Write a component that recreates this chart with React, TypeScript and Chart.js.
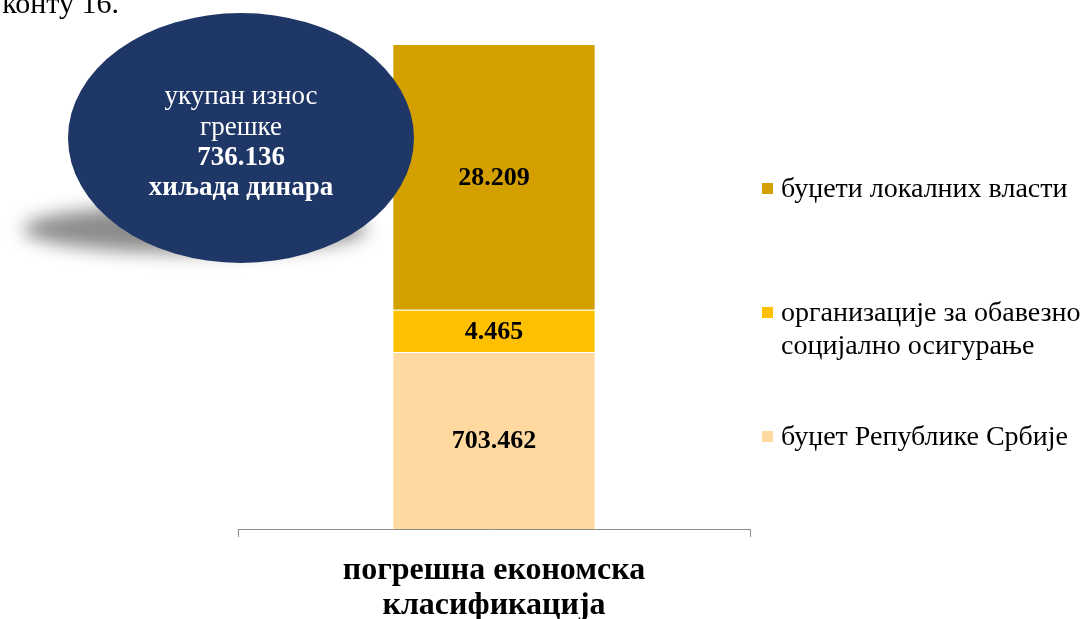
import React, { useEffect, useRef } from "react";
import { Chart, registerables } from "chart.js";

Chart.register(...registerables);

// ---- data ----
const CATEGORIES = ["погрешна економска\nкласификација"];
const SERIES_NAMES = [
  "буџет Републике Србије",
  "организације за обавезно\nсоцијално осигурање",
  "буџети локалних власти",
];
// visual share of the single stacked bar (% of bar height), as drawn in the picture
const BAR_SHARE = [36.5, 8.7, 54.8];
// value labels printed on each segment (thousand dinars)
const VALUE_LABELS = ["703.462", "4.465", "28.209"];
const SERIES_COLORS = ["#FFD99F", "#FFC000", "#D4A000"];
const TOTAL_LINES = ["укупан износ", "грешке", "736.136", "хиљада динара"];
const TOTAL_BOLD = [false, false, true, true];
const HEADER_TEXT = "конту 16.";

const SERIF = '"Liberation Serif", "DejaVu Serif", serif';

const overlayPlugin = {
  id: "overlay",
  afterDatasetsDraw(chart: any) {
    const ctx = chart.ctx as CanvasRenderingContext2D;
    const area = chart.chartArea;
    const xScale = chart.scales.x;

    // header text fragment at the top-left
    ctx.save();
    ctx.fillStyle = "#000";
    ctx.font = `30px ${SERIF}`;
    ctx.textAlign = "right";
    ctx.textBaseline = "alphabetic";
    ctx.fillText(HEADER_TEXT, 119, 13);
    ctx.restore();

    // value labels inside segments
    chart.data.datasets.forEach((ds: any, i: number) => {
      const meta = chart.getDatasetMeta(i);
      meta.data.forEach((el: any) => {
        const cy = (el.y + el.base) / 2;
        ctx.save();
        ctx.fillStyle = "#000";
        ctx.font = `bold 26px ${SERIF}`;
        ctx.textAlign = "center";
        ctx.textBaseline = "middle";
        ctx.fillText(VALUE_LABELS[i], el.x, cy + 1);
        ctx.restore();
      });
    });

    // category label under the axis
    const cx = xScale.getPixelForValue(0);
    const lines = String(chart.data.labels[0]).split("\n");
    ctx.save();
    ctx.fillStyle = "#000";
    ctx.font = `bold 32px ${SERIF}`;
    ctx.textAlign = "center";
    ctx.textBaseline = "middle";
    lines.forEach((ln, k) => ctx.fillText(ln, cx, area.bottom + 42 + k * 35));
    ctx.restore();

    // legend (top dataset first)
    const legendX = 762;
    const legendYs = [438, 314, 190];
    chart.data.datasets.forEach((ds: any, i: number) => {
      const y = legendYs[i];
      ctx.save();
      ctx.fillStyle = ds.backgroundColor;
      ctx.fillRect(legendX, y - 7, 11, 11);
      ctx.fillStyle = "#000";
      ctx.font = `28px ${SERIF}`;
      ctx.textAlign = "left";
      ctx.textBaseline = "middle";
      String(ds.label)
        .split("\n")
        .forEach((ln: string, k: number) => ctx.fillText(ln, legendX + 19, y + k * 33));
      ctx.restore();
    });

    // total bubble with shadow
    ctx.save();
    ctx.filter = "blur(9px)";
    ctx.fillStyle = "rgba(0,0,0,0.45)";
    ctx.beginPath();
    ctx.ellipse(195, 229, 172, 24, 0, 0, Math.PI * 2);
    ctx.fill();
    ctx.restore();

    ctx.save();
    ctx.fillStyle = "#1F3766";
    ctx.beginPath();
    ctx.ellipse(241, 138, 173, 125, 0, 0, Math.PI * 2);
    ctx.fill();
    ctx.fillStyle = "#fff";
    ctx.textAlign = "center";
    ctx.textBaseline = "middle";
    TOTAL_LINES.forEach((ln, k) => {
      ctx.font = `${TOTAL_BOLD[k] ? "bold " : ""}27px ${SERIF}`;
      ctx.fillText(ln, 241, 97 + k * 30.5);
    });
    ctx.restore();
  },
};

export default function App() {
  const ref = useRef<HTMLCanvasElement | null>(null);
  useEffect(() => {
    if (!ref.current) return;
    const chart = new Chart(ref.current, {
      type: "bar",
      data: {
        labels: CATEGORIES,
        datasets: SERIES_NAMES.map((name, i) => ({
          label: name,
          data: [BAR_SHARE[i]],
          backgroundColor: SERIES_COLORS[i],
          borderColor: "#FFFFFF",
          borderWidth: 1,
          categoryPercentage: 1,
          barPercentage: 0.397,
        })),
      },
      options: {
        responsive: false,
        animation: false,
        layout: { padding: { left: 238, right: 334, top: 44, bottom: 82 } },
        plugins: { legend: { display: false }, tooltip: { enabled: false } },
        scales: {
          x: {
            stacked: true,
            ticks: { display: false },
            grid: { display: true, drawOnChartArea: false, drawTicks: true, tickLength: 8, color: "#8C8C8C", offset: true },
            border: { display: true, color: "#8C8C8C", width: 1 },
          },
          y: { stacked: true, display: false, min: 0, max: 100 },
        },
      },
      plugins: [overlayPlugin],
    });
    return () => chart.destroy();
  }, []);
  return (
    <div style={{ position: "absolute", left: 0, top: 0, width: 1084, height: 619, background: "#fff" }}>
      <canvas ref={ref} width={1084} height={619} />
    </div>
  );
}
